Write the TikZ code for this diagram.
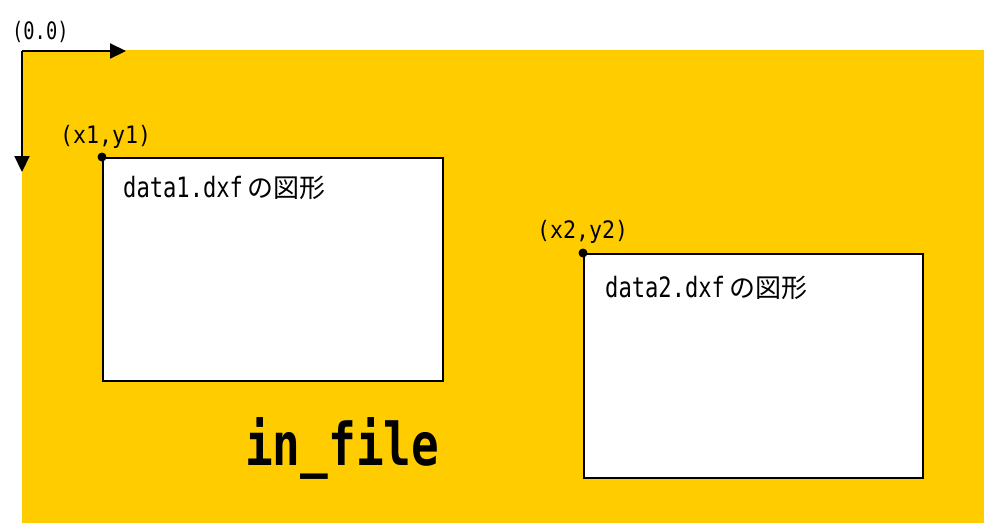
\documentclass[tikz,border=0pt]{standalone}
\usepackage{fontspec}
\usepackage{graphicx}
\newfontfamily\monof{DejaVu Sans Mono}
\newfontfamily\cjkf{Noto Sans CJK JP}
\usetikzlibrary{arrows.meta}
\definecolor{gold}{RGB}{255,204,0}
\tikzset{
  databox/.style={draw=black, line width=1.6pt, fill=white, anchor=north west, inner sep=0pt},
  cornerdot/.style={circle, fill=black, inner sep=0pt, minimum size=9pt},
  lbl/.style={anchor=base west, inner sep=0pt, font=\monof\fontsize{24}{28}\selectfont},
  boxtext/.style={anchor=base west, inner sep=0pt},
  axis/.style={line width=2.2pt, -{Triangle[length=16pt,width=15pt]}},
}
\newcommand{\dtext}[1]{{\monof\fontsize{28}{32}\selectfont\scalebox{0.79}[1]{#1}}}
\newcommand{\jtext}[1]{{\cjkf\fontsize{26}{30}\selectfont #1}}
\begin{document}
\begin{tikzpicture}[x=1pt,y=-1pt]
\useasboundingbox (0,0) rectangle (984,523);
\fill[gold] (22,50) rectangle (984,523);
% axes
\coordinate (origin) at (22,51);
\coordinate (xend) at (126,51);
\coordinate (yend) at (22,172);
\draw[axis] (origin) -- (xend);
\draw[axis] (origin) -- (yend);
\node[lbl] (o) at (12,39) {\scalebox{0.78}[1]{(0.0)}};
% box 1
\node[databox, minimum width=340pt, minimum height=223pt] (box1) at (102,157) {};
\node[cornerdot] (d1) at (box1.north west) {};
\node[lbl] (l1) at (60,143) {\scalebox{0.9}[1]{(x1,y1)}};
\node[boxtext] (t1) at (123,197) {\dtext{data1.dxf}\hspace{4pt}\jtext{の図形}};
% box 2
\node[databox, minimum width=339pt, minimum height=224pt] (box2) at (583,253) {};
\node[cornerdot] (d2) at (box2.north west) {};
\node[lbl] (l2) at (537,238) {\scalebox{0.9}[1]{(x2,y2)}};
\node[boxtext] (t2) at (605,297) {\dtext{data2.dxf}\hspace{4pt}\jtext{の図形}};
% file label
\node[boxtext] (f) at (245,465) {\monof\bfseries\fontsize{59}{64}\selectfont\scalebox{0.78}[1]{in\_file}};
\end{tikzpicture}
\end{document}
